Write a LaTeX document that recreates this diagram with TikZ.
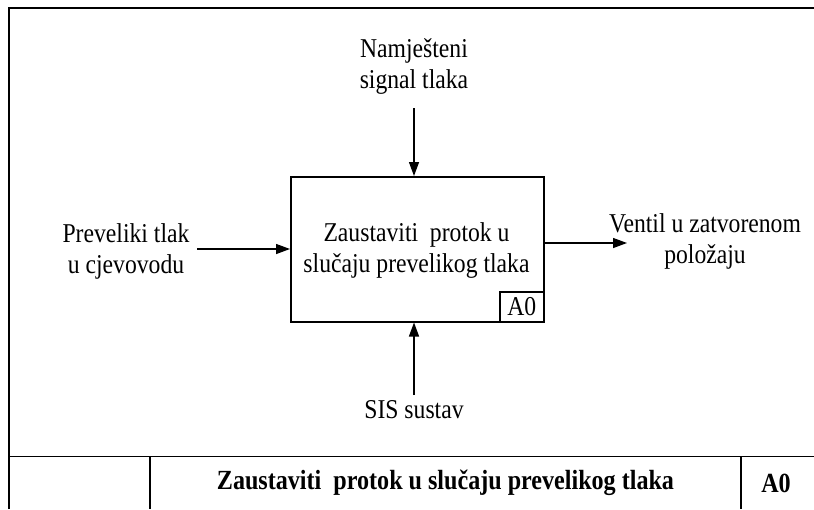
\documentclass[tikz,border=0pt]{standalone}
\usepackage{fontspec}
\setmainfont{Liberation Serif}[FakeStretch=0.87]
\usetikzlibrary{arrows.meta}
\begin{document}
\begin{tikzpicture}[x=1pt,y=-1pt,
  frameline/.style={line width=1.6pt},
  flow/.style={line width=1.3pt,-{Triangle[length=14pt,width=10pt]}},
  lbl/.style={align=center,font=\fontsize{27.2}{31}\selectfont,inner sep=0pt},
  ttl/.style={font=\fontsize{27.7}{31}\selectfont\bfseries,inner sep=0pt}]
\useasboundingbox (0,0) rectangle (814,509);
\fill[white] (0,0) rectangle (814,509);

% sheet frame and title strip
\coordinate (tl) at (9,8);
\coordinate (tr) at (814,8);
\coordinate (bl) at (9,509);
\coordinate (sl) at (9,456.5);
\coordinate (sr) at (814,456.5);
\draw[frameline] (bl) -- (tl) -- (tr);
\draw[frameline] (sl) -- (sr);
\coordinate (d1t) at (150,456.5);
\coordinate (d1b) at (150,509);
\coordinate (d2t) at (741,456.5);
\coordinate (d2b) at (741,509);
\draw[frameline] (d1t) -- (d1b);
\draw[frameline] (d2t) -- (d2b);
\node[ttl] (title) at (445.5,483) {Zaustaviti\ \ protok u slučaju prevelikog tlaka};
\node[ttl] (num) at (776,483) {A0};

% activity box
\node[draw,line width=1.5pt,anchor=north west,minimum width=253pt,minimum height=145pt,inner sep=0pt] (fn) at (290,176) {};
\node[lbl] (fntext) at (416.5,250) {Zaustaviti\ \ protok u\\slučaju prevelikog tlaka};
\node[draw,line width=1.3pt,anchor=south east,minimum width=44pt,minimum height=30pt,inner sep=0pt,font=\fontsize{27.2}{31}\selectfont] (tag) at (fn.south east) {A0};

% control
\node[lbl] (ctrl) at (414,66) {Namješteni\\signal tlaka};
\coordinate (ctrlstart) at (414,108);
\draw[flow] (ctrlstart) -- (ctrlstart |- fn.north);

% input
\node[lbl] (inp) at (126,251) {Preveliki tlak\\u cjevovodu};
\coordinate (inpstart) at (197,249);
\draw[flow] (inpstart) -- (inpstart -| fn.west);

% output
\node[lbl] (outp) at (705,241.5) {Ventil u zatvorenom\\položaju};
\coordinate (outend) at (627,243);
\draw[flow] (outend -| fn.east) -- (outend);

% mechanism
\node[lbl] (mech) at (414,410) {SIS sustav};
\coordinate (mechstart) at (414,395);
\draw[flow] (mechstart) -- (mechstart |- fn.south);
\end{tikzpicture}
\end{document}
